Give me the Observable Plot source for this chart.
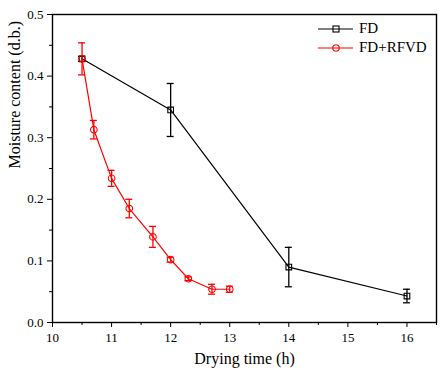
<!DOCTYPE html>
<html><head><meta charset="utf-8">
<script src="https://cdn.jsdelivr.net/npm/d3@7"></script>
<script src="https://cdn.jsdelivr.net/npm/@observablehq/plot@0.6"></script>
<style>
body{margin:0;background:#fff;}
#wrap{position:relative;width:448px;height:377px;font-family:"Liberation Serif",serif;}
#wrap svg text{font-family:"Liberation Serif",serif;}
#legend{position:absolute;left:317px;top:19px;font-size:15px;line-height:19px;}
#legend div{display:flex;align-items:center;height:19px;}
#legend svg{margin-right:6px;}
</style></head>
<body><div id="wrap"><div id="legend"></div></div>
<script>
const fdTime = [10.5, 12, 14, 16];
const fdMoisture = [0.428, 0.345, 0.090, 0.043];
const fdError = [0.004, 0.043, 0.032, 0.011];

const rfTime = [10.5, 10.7, 11.0, 11.3, 11.7, 12.0, 12.3, 12.7, 13.0];
const rfMoisture = [0.428, 0.313, 0.234, 0.185, 0.139, 0.102, 0.071, 0.054, 0.054];
const rfError = [0.026, 0.015, 0.013, 0.015, 0.017, 0.004, 0.003, 0.008, 0.005];

const xTicks = [10, 11, 12, 13, 14, 15, 16];
const xMinor = [10.5, 11.5, 12.5, 13.5, 14.5, 15.5, 16.5];
const yTicks = [0, 0.1, 0.2, 0.3, 0.4, 0.5];
const yMinor = [0.05, 0.15, 0.25, 0.35, 0.45];

const seriesNames = ["FD", "FD+RFVD"];
const seriesColors = ["#000000", "#ff0000"];
const seriesSymbols = ["square", "circle"];

const fd = fdTime.map((t, i) => ({t, m: fdMoisture[i], e: fdError[i]}));
const rf = rfTime.map((t, i) => ({t, m: rfMoisture[i], e: rfError[i]}));

const font = "Liberation Serif";

function series(data, color, symbol, size) {
  return [
    Plot.ruleX(data, {x: "t", y1: d => d.m - d.e, y2: d => d.m + d.e, stroke: color, strokeWidth: 1.3}),
    Plot.ruleY(data, {x1: "t", x2: "t", y: d => d.m + d.e, insetLeft: -3.5, insetRight: -3.5, stroke: color, strokeWidth: 1.3}),
    Plot.ruleY(data, {x1: "t", x2: "t", y: d => d.m - d.e, insetLeft: -3.5, insetRight: -3.5, stroke: color, strokeWidth: 1.3}),
    Plot.line(data, {x: "t", y: "m", stroke: color, strokeWidth: 1.2}),
    Plot.dot(data, {x: "t", y: "m", symbol: () => symbol, r: size, stroke: color, fill: "none", strokeWidth: 1.1})
  ];
}

const chart = Plot.plot({
  width: 448,
  height: 377,
  marginLeft: 52,
  marginRight: 12,
  marginTop: 14,
  marginBottom: 55,
  style: {fontFamily: font, background: "#fff", color: "#000"},
  x: {domain: [10, 16.5]},
  y: {domain: [0, 0.5]},
  symbol: {domain: seriesSymbols, range: seriesSymbols},
  marks: [
    Plot.axisX(xTicks, {tickSize: 5, tickPadding: 5, fontSize: 13, fontFamily: font, label: null, tickFormat: d3.format("d")}),
    Plot.axisX(xMinor, {tickSize: 3, tickFormat: () => "", label: null}),
    Plot.axisY(yTicks, {tickSize: 5, tickPadding: 4, fontSize: 13, fontFamily: font, label: null, tickFormat: d3.format(".1f")}),
    Plot.axisY(yMinor, {tickSize: 3, tickFormat: () => "", label: null}),
    ...series(fd, seriesColors[0], seriesSymbols[0], 3.2),
    ...series(rf, seriesColors[1], seriesSymbols[1], 3.3),
    Plot.frame({stroke: "#000", strokeWidth: 1.4}),
    Plot.text(["Drying time (h)"], {frameAnchor: "bottom", dy: 41, fontSize: 16, fontFamily: font, fill: "#000"}),
    Plot.text(["Moisture content (d.b.)"], {frameAnchor: "left", dx: -38, rotate: -90, fontSize: 16, fontFamily: font, fill: "#000"})
  ]
});
const wrap = document.getElementById("wrap");
wrap.insertBefore(chart, wrap.firstChild);

const legend = document.getElementById("legend");
seriesNames.forEach((name, i) => {
  const row = document.createElement("div");
  const c = seriesColors[i];
  const marker = seriesSymbols[i] === "square"
    ? `<rect x="16" y="6" width="6" height="6" fill="none" stroke="${c}" stroke-width="1.1"/>`
    : `<circle cx="19" cy="9" r="3.2" fill="none" stroke="${c}" stroke-width="1.1"/>`;
  row.innerHTML = `<svg width="36" height="18"><line x1="1" x2="36" y1="9" y2="9" stroke="${c}" stroke-width="1.2"/>${marker}</svg><span>${name}</span>`;
  legend.appendChild(row);
});
</script></body></html>
